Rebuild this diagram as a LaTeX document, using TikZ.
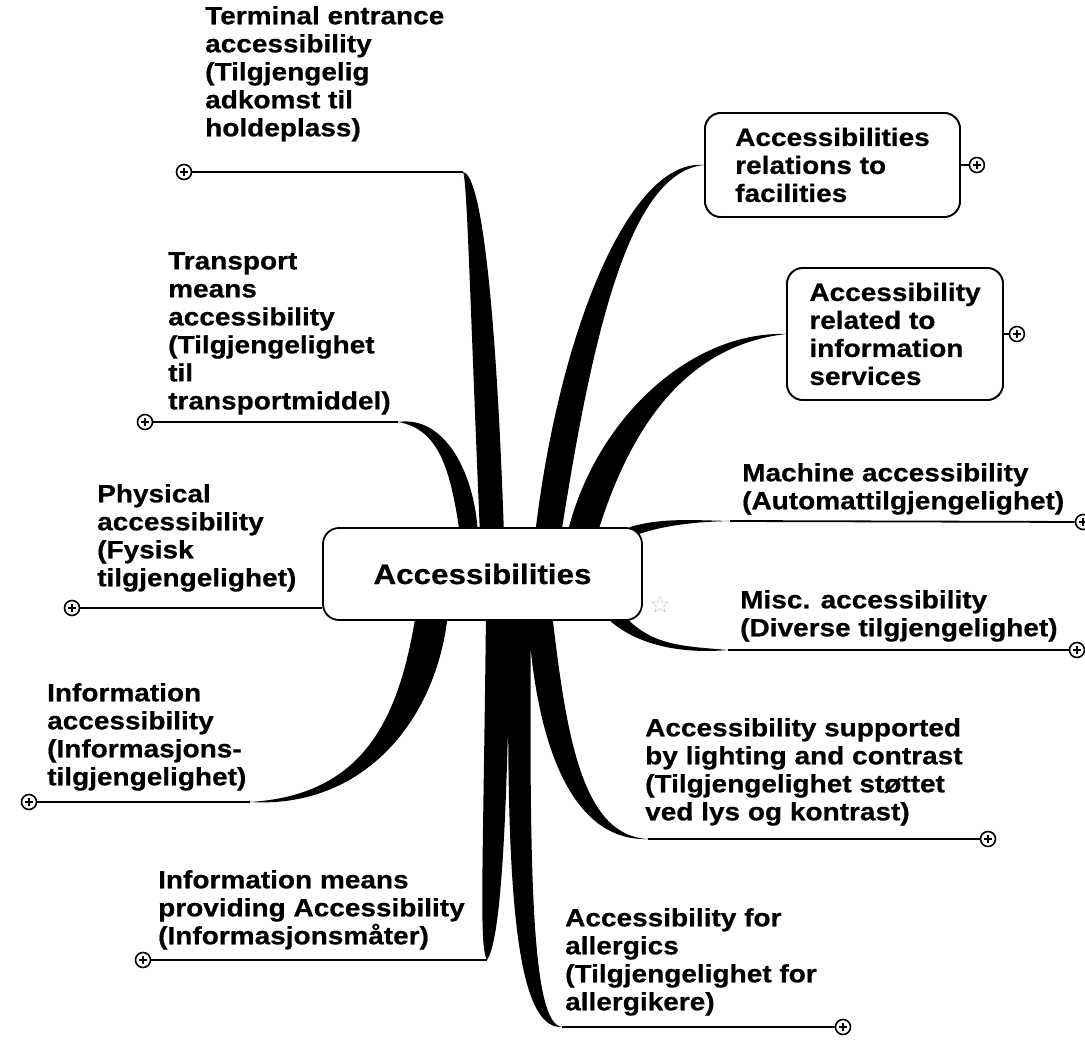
\documentclass[tikz,border=0pt]{standalone}
\usepackage{fontspec}
\setmainfont{Liberation Sans}[FakeStretch=1.12, BoldFeatures={FakeBold=0.6}]
\usetikzlibrary{calc,shapes.geometric}

% tapered branch: base, control 1, control 2, tip,
% half-width at base, half-width at control 1, offset at control 2
\newcommand\limb[7]{%
  \fill[black] ($(#1)-(#5)$) .. controls ($(#2)-(#6)$) and ($(#3)-(#7)$) .. (#4)
    .. controls ($(#3)+(#7)$) and ($(#2)+(#6)$) .. ($(#1)+(#5)$) -- cycle;}

\tikzset{
  lbl/.style={anchor=north west, inner sep=0pt, align=left,
    font=\bfseries\fontsize{25}{28}\selectfont},
  stem/.style={line width=1.8pt},
  hub/.style={draw, line width=1.8pt, fill=white, rounded corners=16pt,
    minimum width=319pt, minimum height=92pt, inner sep=0pt,
    font=\bfseries\fontsize{28}{32}\selectfont},
  topic/.style={draw, line width=1.8pt, fill=white, rounded corners=16pt,
    inner sep=0pt, align=left, font=\bfseries\fontsize{25}{28}\selectfont},
  plusmark/.style={circle, draw, line width=1.6pt, fill=white, minimum size=15pt,
    inner sep=0pt, path picture={\draw[line width=1.3pt]
      (path picture bounding box.center) +(-4pt,0) -- +(4pt,0)
      (path picture bounding box.center) +(0,-4pt) -- +(0,4pt);}},
}

\begin{document}
\begin{tikzpicture}[x=1pt, y=-1pt]
\useasboundingbox (0,0) rectangle (1085,1048);
\fill[white] (0,0) rectangle (1085,1048);

% ---- branch roots and tips
\coordinate (b1) at (492,535);  \coordinate (t1) at (463,172);
\coordinate (b2) at (469,535);  \coordinate (t2) at (398,422);
\coordinate (b4) at (432,613);  \coordinate (t4) at (250,802);
\coordinate (b5) at (498,613);  \coordinate (t5) at (487,960);
\coordinate (b6) at (520,613);  \coordinate (t6) at (562,1027);
\coordinate (b7) at (540,613);  \coordinate (t7) at (648,839);
\coordinate (b8) at (612,613);  \coordinate (t8) at (728,650);
\coordinate (b9) at (630,532);  \coordinate (t9) at (730,521);
\coordinate (b10) at (548,535);
\coordinate (b11) at (582,535);

% ---- sub-topic boxes (placed first so branches can reach them)
\path (832.5,165) node[topic, minimum width=255pt, minimum height=104pt] (rel)
  {Accessibilities\\relations to\\facilities};
\path (895,334) node[topic, minimum width=216pt, minimum height=132pt] (svc)
  {Accessibility\\related to\\information\\services};

% ---- tapered branches
\limb{b1}{483,300}{474,176}{t1}{12,0}{13,0}{7,-2}
\limb{b2}{463,472}{442,422}{t2}{9,0}{12,0}{2,-7}
\limb{b4}{418,722}{362,802}{t4}{16,0}{19,0}{0,7}
\limb{b5}{495,880}{488,945}{t5}{12,0}{12,0}{9,0}
\limb{b6}{517,880}{523,1027}{t6}{11,0}{12,0}{9,-3}
\limb{b7}{550,732}{574,839}{t7}{12,0}{16,0}{7,-3}
\limb{b8}{641,646}{682,650}{t8}{10,0}{9,0}{0,-4}
\limb{b9}{660,522}{690,521}{t9}{0,5}{0,4}{0,1}
\limb{b10}{576,330}{630,165}{rel.west}{13,0}{17,0}{0,7}
\limb{b11}{613,420}{690,338}{svc.west}{15,0}{19,0}{0,7}

% redraw boxes over the branch tips
\path (832.5,165) node[topic, minimum width=255pt, minimum height=104pt]
  {Accessibilities\\relations to\\facilities};
\path (895,334) node[topic, minimum width=216pt, minimum height=132pt]
  {Accessibility\\related to\\information\\services};

% ---- central topic
\node[hub] (hub) at (482.5,574) {Accessibilities};
\node[star, star points=5, star point ratio=2.2, draw=black!30, densely dotted,
  line width=0.8pt, minimum size=17pt, inner sep=0pt] (spark) at (660,605) {};

% ---- expand markers
\node[plusmark] (m1) at (184,172) {};
\node[plusmark] (m2) at (145,422) {};
\node[plusmark] (m3) at (72,608) {};
\node[plusmark] (m4) at (29,802) {};
\node[plusmark] (m5) at (143,960) {};
\node[plusmark] (m6) at (843,1027) {};
\node[plusmark] (m7) at (988,839) {};
\node[plusmark] (m8) at (1077,650) {};
\node[plusmark] (m9) at (1083,522) {};
\node[plusmark] (m10) at ($(rel.east)+(16,0)$) {};
\node[plusmark] (m11) at ($(svc.east)+(13,0)$) {};

% ---- underlines
\draw[stem] (t1) -- (m1);
\draw[stem] (t2) -- (m2);
\draw[stem] (m3) -- (m3 -| hub.west);
\draw[stem] (t4) -- (m4);
\draw[stem] (t5) -- (m5);
\draw[stem] (t6) -- (m6);
\draw[stem] (t7) -- (m7);
\draw[stem] (t8) -- (m8);
\draw[stem] (t9) -- (m9);
\draw[stem] (rel.east) -- (m10);
\draw[stem] (svc.east) -- (m11);

% ---- labels
\node[lbl] (l1) at (205,6) {Terminal entrance\\accessibility\\(Tilgjengelig\\adkomst til\\holdeplass)};
\node[lbl] (l2) at (168,252) {Transport\\means\\accessibility\\(Tilgjengelighet\\til\\transportmiddel)};
\node[lbl] (l3) at (97,484) {Physical\\accessibility\\(Fysisk\\tilgjengelighet)};
\node[lbl] (l4) at (47,683) {Information\\accessibility\\(Informasjons-\\tilgjengelighet)};
\node[lbl] (l5) at (158,870) {Information means\\providing Accessibility\\(Informasjonsmåter)};
\node[lbl] (l6) at (565,908) {Accessibility for\\allergics\\(Tilgjengelighet for\\allergikere)};
\node[lbl] (l7) at (645,718) {Accessibility supported\\by lighting and contrast\\(Tilgjengelighet støttet\\ved lys og kontrast)};
\node[lbl] (l8) at (740,590) {Misc. accessibility\\(Diverse tilgjengelighet)};
\node[lbl] (l9) at (742,463) {Machine accessibility\\(Automattilgjengelighet)};
\end{tikzpicture}
\end{document}
